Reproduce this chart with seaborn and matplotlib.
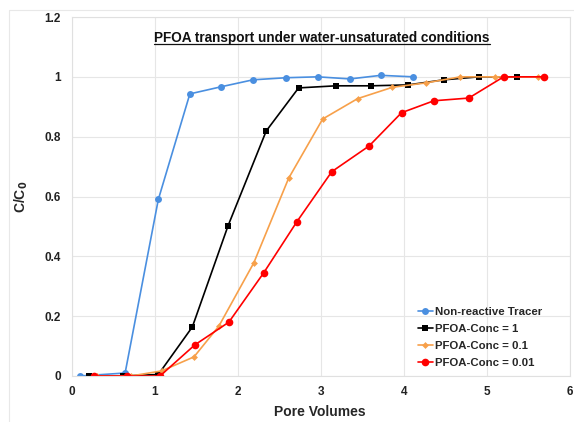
import numpy as np
import pandas as pd
import matplotlib
matplotlib.use("Agg")
import matplotlib.pyplot as plt
import seaborn as sns
from matplotlib.lines import Line2D

series_names = ["Non-reactive Tracer", "PFOA-Conc = 1", "PFOA-Conc = 0.1", "PFOA-Conc = 0.01"]

tracer_x = [0.1, 0.64, 1.04, 1.42, 1.80, 2.18, 2.58, 2.96, 3.35, 3.72, 4.11]
tracer_y = [0.0, 0.01, 0.59, 0.943, 0.967, 0.99, 0.997, 1.0, 0.993, 1.005, 1.0]

conc1_x = [0.20, 0.61, 1.04, 1.45, 1.88, 2.34, 2.73, 3.18, 3.60, 4.05, 4.48, 4.90, 5.36]
conc1_y = [0.0, 0.0, 0.005, 0.164, 0.502, 0.819, 0.963, 0.97, 0.97, 0.973, 0.99, 1.0, 1.0]

conc01_x = [0.30, 0.71, 1.08, 1.47, 1.77, 2.19, 2.61, 3.02, 3.44, 3.86, 4.27, 4.68, 5.10, 5.61]
conc01_y = [0.0, 0.0, 0.017, 0.064, 0.167, 0.378, 0.661, 0.859, 0.927, 0.965, 0.98, 1.0, 1.0, 1.0]

conc001_x = [0.27, 0.66, 1.06, 1.48, 1.89, 2.31, 2.71, 3.13, 3.58, 3.97, 4.36, 4.78, 5.20, 5.69]
conc001_y = [0.0, 0.0, 0.0, 0.104, 0.18, 0.345, 0.516, 0.683, 0.769, 0.88, 0.92, 0.929, 1.0, 1.0]

x_ticks = [0, 1, 2, 3, 4, 5, 6]
y_ticks = [0, 0.2, 0.4, 0.6, 0.8, 1.0, 1.2]
y_tick_labels = ["0", "0.2", "0.4", "0.6", "0.8", "1", "1.2"]

colors = ["#4A8FE0", "#000000", "#F7A04A", "#FF0000"]
markers = ["o", "s", "D", "o"]
msizes = [5, 5, 3.5, 5.5]

frames = []
for name, xs, ys in zip(series_names,
                        [tracer_x, conc1_x, conc01_x, conc001_x],
                        [tracer_y, conc1_y, conc01_y, conc001_y]):
    frames.append(pd.DataFrame({"pv": xs, "c": ys, "series": name}))
df = pd.concat(frames, ignore_index=True)

sns.set_theme(style="white")
plt.rcParams["font.family"] = ["Liberation Sans", "DejaVu Sans"]

fig = plt.figure(figsize=(5.74, 4.22), dpi=100)
ax = fig.add_axes([72 / 574, 1 - 376 / 422, (570 - 72) / 574, (376 - 17) / 422])

for name, col, mk, ms in zip(series_names, colors, markers, msizes):
    sub = df[df["series"] == name]
    sns.lineplot(data=sub, x="pv", y="c", ax=ax, color=col, marker=mk,
                 markersize=ms, markeredgewidth=0, linewidth=1.2,
                 sort=False, label=name, estimator=None)

ax.set_xlim(0, 6)
ax.set_ylim(0, 1.2)
ax.set_xticks(x_ticks)
ax.set_yticks(y_ticks)
ax.set_yticklabels(y_tick_labels)
ax.tick_params(axis="both", length=0, labelsize=8.5)
ax.tick_params(axis="x", pad=7)
ax.tick_params(axis="y", pad=8)
for lab in ax.get_xticklabels() + ax.get_yticklabels():
    lab.set_fontweight("bold")
    lab.set_color("#222222")
ax.grid(True, color="#e6e6e6", linewidth=0.8)
for sp in ax.spines.values():
    sp.set_color("#e0e0e0")
    sp.set_linewidth(0.8)

ax.set_xlabel("Pore Volumes", fontsize=10, fontweight="bold")
ax.xaxis.set_label_coords((320 - 72) / 498, -(405 - 376) / 359)
ax.set_ylabel("C/C$_\\mathbf{0}$", fontsize=10, fontweight="bold")
ax.yaxis.set_label_coords(-(72 - 30) / 498, (376 - 197) / 359)

leg = ax.legend(loc="lower left", bbox_to_anchor=((418 - 72) / 498, (376 - 368) / 359),
                frameon=False, fontsize=8.2, handlelength=1.3, handletextpad=0.15,
                labelspacing=0.62, borderaxespad=0.0, borderpad=0.0)
for t in leg.get_texts():
    t.set_fontweight("bold")

title = ax.text((322 - 72) / 498, (376 - 38) / 359,
                "PFOA transport under water-unsaturated conditions",
                transform=ax.transAxes, ha="center", va="center",
                fontsize=9.8, fontweight="bold", color="#111111")

fig.add_artist(Line2D([9 / 574, 9 / 574], [0, 1 - 10 / 422], transform=fig.transFigure,
                      color="#e8e8e8", linewidth=0.8))
fig.add_artist(Line2D([9 / 574, 1], [1 - 10 / 422, 1 - 10 / 422], transform=fig.transFigure,
                      color="#e8e8e8", linewidth=0.8))

fig.canvas.draw()
bb = title.get_window_extent(renderer=fig.canvas.get_renderer())
inv = fig.transFigure.inverted()
(x0, y0), (x1, y1) = inv.transform([[bb.x0, bb.y0], [bb.x1, bb.y1]])
fig.add_artist(Line2D([x0, x1], [y0 + 0.002, y0 + 0.002], transform=fig.transFigure,
                      color="#111111", linewidth=0.9))

fig.savefig("out.png", dpi=100)
